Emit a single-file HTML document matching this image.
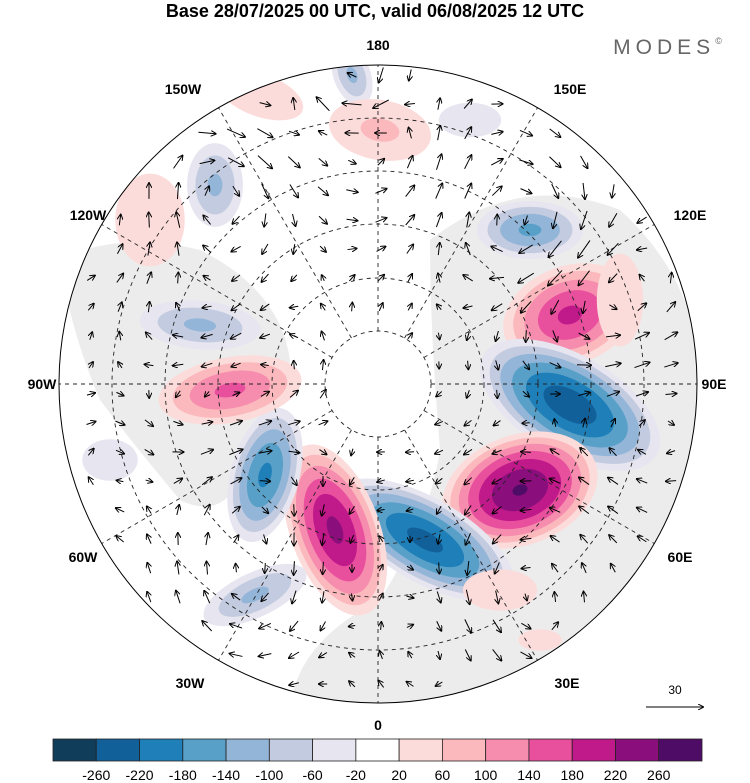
<!DOCTYPE html>
<html><head><meta charset="utf-8"><style>
body{margin:0;background:#fff;width:750px;height:783px;overflow:hidden}
svg{display:block;font-family:"Liberation Sans",sans-serif}
</style></head><body>
<svg id="chart" width="750" height="783" viewBox="0 0 750 783">
<text x="375" y="17" text-anchor="middle" font-size="18" font-weight="bold">Base 28/07/2025 00 UTC, valid 06/08/2025 12 UTC</text>
<text x="670" y="54" text-anchor="middle" font-size="21" fill="#666" letter-spacing="5">MODES<tspan font-size="9" dy="-10">©</tspan></text>
<defs><clipPath id="disc"><circle cx="378" cy="384" r="319"/></clipPath>
<marker id="ah" markerWidth="6" markerHeight="6" refX="5" refY="3" orient="auto"><path d="M0,0 L6,3 L0,6" fill="none" stroke="#000" stroke-width="1"/></marker></defs>
<g id="map" clip-path="url(#disc)">
<circle cx="378" cy="384" r="319" fill="#fff"/>
<g id="land" fill="#ececec">
<path d="M430,240 Q520,170 620,210 Q720,300 700,450 Q690,560 620,640 Q540,700 430,705 L290,705 Q300,640 380,600 Q430,520 440,450 Q430,330 430,240Z"/>
<path d="M60,260 Q120,230 200,250 Q280,290 290,360 Q280,430 240,480 Q220,520 180,500 Q130,440 100,400 Q70,330 60,260Z"/>
</g>
<g id="blobs"></g>
<g id="grid" fill="none" stroke="#222" stroke-width="0.9" stroke-dasharray="4,4"></g>
<g id="arrows" stroke="#000" stroke-width="1" fill="none"></g>
</g>
<circle cx="378" cy="384" r="319" fill="none" stroke="#000" stroke-width="1"/>
<g font-size="14" font-weight="bold" text-anchor="middle">
<text x="378" y="50">180</text><text x="183" y="94">150W</text><text x="570" y="94">150E</text>
<text x="88" y="220">120W</text><text x="690" y="220">120E</text>
<text x="42" y="389">90W</text><text x="714" y="389">90E</text>
<text x="83" y="562">60W</text><text x="680" y="562">60E</text>
<text x="190" y="688">30W</text><text x="567" y="688">30E</text><text x="378" y="730">0</text>
</g>
<g><text x="675" y="694" text-anchor="middle" font-size="12">30</text>
<line x1="646" y1="707" x2="703" y2="707" stroke="#000" marker-end="url(#ah)"/></g>
<g id="cbar"></g>
</svg>
<script>
const cbColors=["#0f3d5a","#11609a","#1f7fb8","#58a0c8","#93b5d8","#c3cbe0","#e6e5f0","#ffffff","#fcdcdb","#fbb9bd","#f68cae","#e84f9d","#c0198a","#8a0f7c","#4f0c67"];
const cbLabels=["-260","-220","-180","-140","-100","-60","-20","20","60","100","140","180","220","260"];
const levels=[-260,-220,-180,-140,-100,-60,-20,20,60,100,140,180,220,260];
// anomaly centres: x, y, rx, ry, rotation, peak value
const blobX=[570,570,520,425,335,265,230,200,255,530,215,352,380,260,150,500,110,470,620,540];
const blobY=[315,405,490,540,530,475,390,325,595,230,185,75,130,95,220,590,460,120,300,640];
const blobRX=[70,100,80,100,45,35,75,65,60,55,30,20,60,55,45,45,40,45,30,40];
const blobRY=[50,50,55,42,90,70,34,26,24,30,45,34,35,26,60,25,30,25,60,20];
const blobRot=[-20,30,-20,30,-20,15,-10,5,-25,0,0,-20,10,20,0,0,0,0,0,0];
const blobPeak=[190,-250,265,-235,230,-190,150,-110,-110,-150,-110,-110,70,60,50,60,-40,-40,50,30];
const NS="http://www.w3.org/2000/svg";
function colorFor(v){let i=0;while(i<levels.length&&v>=levels[i])i++;return cbColors[i];}
const bg=document.getElementById('blobs');
for(let b=0;b<blobX.length;b++){
  const p=blobPeak[b],s=Math.sign(p);
  const lv=levels.filter(l=>s>0?(l>0&&l<p):(l<0&&l>p)).sort((a,c)=>Math.abs(a)-Math.abs(c));
  lv.forEach(l=>{
    const f=Math.pow(1-Math.abs(l)/Math.abs(p),0.6)*1.05;
    const e=document.createElementNS(NS,'ellipse');
    
    
    e.setAttribute('cx',blobX[b]);e.setAttribute('cy',blobY[b]);
    e.setAttribute('rx',blobRX[b]*f);e.setAttribute('ry',blobRY[b]*f);
    e.setAttribute('transform',`rotate(${blobRot[b]} ${blobX[b]} ${blobY[b]})`);
    e.setAttribute('fill',colorFor(l+s*1));
    bg.appendChild(e);
  });
}
const cx=378,cy=384,R=319,gr=document.getElementById('grid');
[53,106,160,213,266].forEach(r=>{const c=document.createElementNS(NS,'circle');


c.setAttribute('cx',cx);c.setAttribute('cy',cy);c.setAttribute('r',r);gr.appendChild(c);});
for(let a=0;a<360;a+=30){const t=a*Math.PI/180,l=document.createElementNS(NS,'line');


l.setAttribute('x1',cx+53*Math.sin(t));l.setAttribute('y1',cy+53*Math.cos(t));
l.setAttribute('x2',cx+R*Math.sin(t));l.setAttribute('y2',cy+R*Math.cos(t));gr.appendChild(l);}
const ag=document.getElementById('arrows');
for(let y=75;y<710;y+=29)for(let x=62;x<710;x+=29){
  const dx0=x-cx,dy0=y-cy,rr=Math.hypot(dx0,dy0);if(rr>R-6||rr<55)continue;
  let u=-dy0/rr*0.4,v=dx0/rr*0.4;
  for(let b=0;b<blobX.length;b++){const dx=x-blobX[b],dy=y-blobY[b],d2=dx*dx+dy*dy;
    const sg=(blobRX[b]+blobRY[b])*0.7;
    const g=blobPeak[b]*Math.exp(-d2/(2*sg*sg))/(sg*sg);
    u+=dy*g*2.5;v+=-dx*g*2.5;}
  const m=Math.hypot(u,v);const len=6+Math.min(22,m*3);
  const ux=u/m,uy=v/m;
  const l=document.createElementNS(NS,'line');
  
  
  l.setAttribute('x1',x-ux*len/2);l.setAttribute('y1',y-uy*len/2);
  l.setAttribute('x2',x+ux*len/2);l.setAttribute('y2',y+uy*len/2);
  l.setAttribute('marker-end','url(#ah)');ag.appendChild(l);
}
const cb=document.getElementById('cbar'),x0=53,cw=(702-53)/cbColors.length;
cbColors.forEach((c,i)=>{const r=document.createElementNS(NS,'rect');


r.setAttribute('x',x0+i*cw);r.setAttribute('y',739);r.setAttribute('width',cw);r.setAttribute('height',22);
r.setAttribute('fill',c);r.setAttribute('stroke','#222');r.setAttribute('stroke-width','0.8');cb.appendChild(r);});
cbLabels.forEach((t,i)=>{const e=document.createElementNS(NS,'text');


e.setAttribute('x',x0+(i+1)*cw);e.setAttribute('y',780);e.setAttribute('text-anchor','middle');
e.setAttribute('font-size','14');e.textContent=t;cb.appendChild(e);});
</script>
</body></html>
